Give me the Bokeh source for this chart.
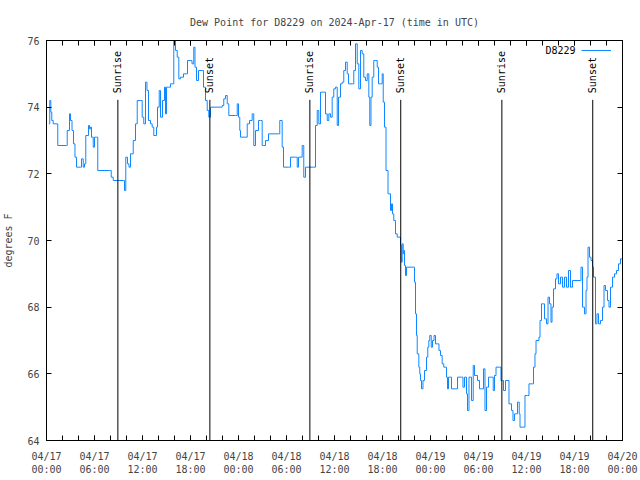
from bokeh.plotting import figure
from bokeh.models import FixedTicker, LinearAxis, Label, Legend, LegendItem, ColumnDataSource, Range1d
from bokeh.embed import file_html
from bokeh.resources import INLINE
from bokeh.core.properties import value

# hours since 2024-04-17 00:00 UTC
hours = [0.29, 0.41, 0.54, 0.66, 0.84, 1.34, 1.41, 2.5, 2.59, 2.875, 3.0, 3.19, 3.375, 3.56, 3.75,
         4.25, 4.375, 4.59, 4.75, 4.91, 5.25, 5.375, 5.5, 5.625, 5.84, 6.0, 6.25, 6.41, 7.875, 8.09,
         8.34, 9.59, 9.75, 9.91, 10.125, 10.31, 10.5, 10.84, 11.125, 11.34, 11.75, 11.96, 12.16, 12.375,
         12.56, 12.75, 13.0, 13.21, 13.41, 13.75, 13.875, 14.09, 14.25, 14.5, 14.75, 14.875, 15.0, 15.25,
         15.5, 15.84, 15.91, 16.125, 16.34, 16.54, 16.75, 17.125, 17.59, 17.625, 18.0, 18.19, 18.41,
         18.56, 18.75, 19.0, 19.46, 19.625, 19.875, 20.09, 20.29, 20.5, 21.96, 22.16, 22.375, 22.59,
         22.79, 23.625, 23.84, 24.0, 24.16, 24.25, 24.875, 25.09, 25.375, 25.71, 25.91, 26.125, 26.5,
         26.75, 26.96, 27.125, 27.375, 27.75, 29.0, 29.16, 29.46, 29.625, 30.25, 30.5, 31.125, 31.34,
         31.5, 31.96, 32.16, 32.375, 33.41, 33.625, 33.84, 34.04, 34.25, 34.66, 34.875, 35.09, 35.29,
         35.5, 35.71, 35.91, 36.125, 36.34, 36.5, 36.75, 36.96, 37.16, 37.375, 37.59, 37.75, 38.21,
         38.41, 38.625, 38.84, 39.04, 39.25, 39.46, 39.66, 39.875, 40.09, 40.29, 40.41, 40.56, 40.71,
         40.91, 41.125, 41.34, 41.5, 41.75, 41.96, 42.09, 42.25, 42.44, 42.69, 43.0, 43.125, 43.25,
         43.41, 43.625, 43.84, 44.19, 44.25, 44.35, 44.46, 44.59, 44.66, 44.75, 44.875, 45.0, 45.91,
         46.0, 46.125, 46.25, 46.34, 46.54, 46.66, 46.75, 46.875, 47.06, 47.25, 47.5, 47.66, 47.79,
         47.91, 48.09, 48.25, 48.44, 48.625, 48.875, 49.06, 49.25, 49.46, 49.66, 49.875, 50.0, 50.125,
         50.25, 50.5, 50.625, 51.125, 51.375, 51.875, 52.06, 52.25, 52.5, 52.625, 52.81, 53.125, 53.34,
         53.5, 53.875, 54.125, 54.375, 54.625, 54.81, 55.0, 55.25, 55.625, 55.84, 56.0, 56.19, 56.625,
         56.81, 57.0, 57.125, 57.375, 57.69, 57.81, 58.125, 58.31, 58.5, 58.75, 58.875, 59.09, 59.19,
         59.625, 59.81, 60.125, 60.31, 60.75, 60.875, 61.06, 61.19, 61.44, 61.56, 61.69, 61.875, 62.125,
         62.25, 62.5, 62.69, 62.875, 63.06, 63.19, 63.375, 63.625, 63.81, 64.0, 64.25, 64.5, 64.75,
         65.0, 65.25, 65.5, 65.75, 66.75, 66.81, 67.0, 67.25, 67.44, 67.56, 67.69, 67.875, 68.06,
         68.25, 68.375, 68.625, 68.81, 69.0, 69.25, 69.5, 69.69, 69.875, 70.125, 70.31, 70.5, 70.75,
         71.0, 71.25, 71.5, 71.75, 72.0]
dew_f = [73.5, 74.2, 73.85, 73.6, 73.5, 73.5, 72.85, 72.85, 73.3, 73.8, 73.6, 73.3, 72.9, 72.5, 72.2,
         72.2, 72.45, 72.2, 72.3, 73.15, 73.45, 73.35, 73.4, 73.1, 72.8, 73.1, 73.1, 72.1, 72.1, 71.9,
         71.8, 71.8, 71.5, 72.5, 72.3, 72.2, 72.6, 73.0, 73.5, 74.2, 74.2, 73.7, 73.5, 74.75,
         74.5, 73.6, 73.5, 73.4, 73.15, 73.4, 74.0, 74.5, 73.7, 74.2, 74.6, 73.8, 74.6, 74.6,
         74.7, 74.7, 76.0, 75.7, 75.5, 74.85, 74.9, 75.0, 75.0, 75.4, 75.4, 75.3, 75.8,
         75.2, 74.8, 75.1, 75.1, 74.6, 74.2, 73.9, 73.7, 74.0, 74.05, 74.25, 74.35, 74.1,
         73.75, 73.75, 74.1, 73.7, 73.3, 73.1, 73.1, 73.5, 73.6, 73.8, 72.85, 73.3, 73.6,
         73.6, 72.85, 72.85, 73.0, 73.2, 73.2, 73.6, 72.8, 72.2, 72.2, 72.5, 72.5, 72.2,
         72.5, 72.85, 71.9, 72.2, 72.2, 73.45, 73.9, 73.5, 74.45, 74.45, 73.8, 73.6, 73.8,
         73.7, 74.3, 74.55, 74.6, 73.45, 74.3, 74.7, 74.75, 75.1, 75.35, 75.0, 74.7, 74.7,
         75.1, 75.9, 75.3, 74.55, 75.7, 75.6, 74.9, 74.8, 75.0, 74.3, 73.45, 74.3, 74.9,
         75.4, 75.4, 75.2, 74.7, 74.7, 75.0, 74.15, 73.4, 72.1, 71.4, 70.9, 71.1, 70.8,
         70.6, 70.2, 70.1, 70.1, 69.85, 69.35, 69.9, 69.6, 69.7, 69.25, 68.95, 69.2, 69.2,
         68.75, 67.8, 67.15, 66.6, 66.2, 66.0, 65.8, 65.55, 65.8, 66.1, 66.5, 66.8, 67.0,
         67.15, 66.8, 67.0, 67.15, 66.9, 66.9, 66.7, 66.55, 66.3, 66.2, 66.2, 65.9, 65.55,
         65.9, 65.9, 65.55, 65.55, 65.9, 65.9, 65.6, 65.9, 65.4, 64.9, 65.9, 65.2, 66.25,
         65.95, 65.8, 65.55, 65.55, 66.15, 64.9, 65.6, 65.9, 65.9, 65.5, 65.95, 66.2, 66.2,
         65.8, 65.8, 65.5, 65.8, 65.8, 65.1, 64.9, 64.6, 64.8, 64.8, 65.15, 64.8, 64.4,
         64.4, 65.35, 65.35, 65.7, 65.7, 66.2, 66.6, 67.0, 67.0, 67.1, 67.6, 68.1, 68.1,
         67.65, 67.5, 68.3, 68.1, 67.55, 68.0, 68.55, 68.85, 69.0, 68.7, 68.9, 68.6, 68.9,
         68.6, 69.1, 68.6, 68.8, 68.8, 69.2, 68.0, 67.8, 68.5, 68.9, 69.8, 69.5, 69.4,
         69.2, 68.9, 67.5, 67.8, 67.5, 67.6, 68.0, 68.65, 68.5, 68.2, 68.0, 68.6, 68.9,
         69.0, 69.1, 69.3, 69.45, 69.5]

sun_hours = [8.92, 20.42, 32.92, 44.28, 56.92, 68.28]
sun_labels = ["Sunrise", "Sunset", "Sunrise", "Sunset", "Sunrise", "Sunset"]

x_tick_hours = [0, 6, 12, 18, 24, 30, 36, 42, 48, 54, 60, 66, 72]
x_tick_labels = ["04/17\n00:00", "04/17\n06:00", "04/17\n12:00", "04/17\n18:00",
                 "04/18\n00:00", "04/18\n06:00", "04/18\n12:00", "04/18\n18:00",
                 "04/19\n00:00", "04/19\n06:00", "04/19\n12:00", "04/19\n18:00",
                 "04/20\n00:00"]
x_minor_hours = list(range(0, 73, 2))
y_ticks = [64, 66, 68, 70, 72, 74, 76]

FONT = "DejaVu Sans Mono"
FS = "10px"
BLUE = "#1188ff"

p = figure(width=640, height=480, output_backend="svg", toolbar_location=None,
           x_range=Range1d(0, 72), y_range=Range1d(64, 76),
           min_border_left=46, min_border_right=18, min_border_top=40, min_border_bottom=40,
           title="Dew Point for D8229 on 2024-Apr-17 (time in UTC)")
p.title.text_font = FONT
p.title.text_font_size = FS
p.title.text_font_style = "normal"
p.title.align = "center"
p.title.standoff = 25
p.background_fill_color = "white"
p.border_fill_color = "white"
p.outline_line_color = "black"
p.grid.visible = False

xt = FixedTicker(ticks=x_tick_hours, minor_ticks=x_minor_hours)
yt = FixedTicker(ticks=y_ticks, minor_ticks=[])

xa = p.xaxis[0]
xa.ticker = xt
xa.major_label_overrides = {h: l for h, l in zip(x_tick_hours, x_tick_labels)}
ya = p.yaxis[0]
ya.ticker = yt
ya.axis_label = "degrees F"
for ax in (xa, ya):
    ax.major_tick_in = 5
    ax.major_tick_out = 0
    ax.minor_tick_in = 5
    ax.minor_tick_out = 0
    ax.major_label_text_font = FONT
    ax.major_label_text_font_size = FS
    ax.axis_label_text_font = FONT
    ax.axis_label_text_font_size = FS
    ax.axis_label_text_font_style = "normal"
    ax.axis_line_color = "black"
    ax.major_tick_line_color = "black"
    ax.minor_tick_line_color = "black"
xa.major_label_standoff = 10
ya.major_label_standoff = 7
ya.axis_label_standoff = 10

top = LinearAxis(ticker=xt, major_tick_in=5, major_tick_out=0, minor_tick_in=5, minor_tick_out=0,
                 major_label_overrides={h: "" for h in x_tick_hours}, major_label_standoff=0)
right = LinearAxis(ticker=yt, major_tick_in=5, major_tick_out=0, minor_tick_in=0, minor_tick_out=0,
                   major_label_overrides={t: "" for t in y_ticks}, major_label_standoff=0)
p.add_layout(top, "above")
p.add_layout(right, "right")

src = ColumnDataSource(dict(t=hours, v=dew_f))
r = p.step("t", "v", source=src, mode="after", line_color=BLUE, line_width=1)

sun = ColumnDataSource(dict(t=sun_hours, lab=sun_labels))
p.segment(x0="t", y0=64, x1="t", y1=74.22, source=sun, line_color="black", line_width=1)
p.text(x="t", y=74.42, text="lab", source=sun, angle=1.5708, text_align="left",
       text_baseline="middle", text_font=value(FONT), text_font_size=FS, text_color="black")

leg = Legend(items=[LegendItem(label="", renderers=[r])], location=(535, 380),
             glyph_width=30, glyph_height=20, label_width=0, label_standoff=0, padding=0,
             margin=0, spacing=0, border_line_alpha=0, background_fill_alpha=0,
             label_text_font_size=FS)
p.add_layout(leg)
p.add_layout(Label(x=529, y=390, x_units="screen", y_units="screen", text="D8229",
                   text_align="right", text_baseline="middle", text_font=FONT,
                   text_font_size=FS, text_color="black"))

open("out.html", "w").write(file_html(p, INLINE))
